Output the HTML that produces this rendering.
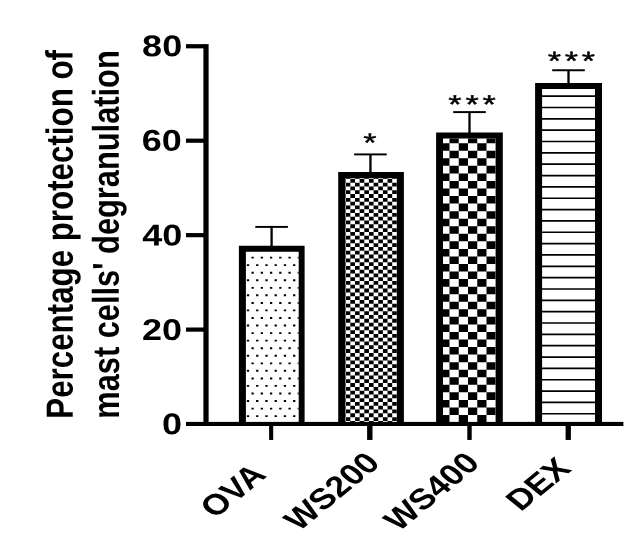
<!DOCTYPE html>
<html><head><meta charset="utf-8"><title>Chart</title>
<style>
html,body{margin:0;padding:0;background:#fff;}
body{width:637px;height:543px;overflow:hidden;}
svg{display:block;filter:blur(0.3px);}
text{font-family:"Liberation Sans",Arial,Helvetica,sans-serif;fill:#000;text-rendering:geometricPrecision;}
.b{font-weight:bold;}
</style></head><body>
<svg width="637" height="543" viewBox="0 0 637 543">
<rect width="637" height="543" fill="#fff"/>

<path fill="#000" fill-rule="evenodd" d="M238.9 245.85H304.6V424.0H238.9zM245.9 251.7V424.0H298.7V251.7z"/>
<clipPath id="c_dots"><rect x="245.9" y="251.7" width="52.80" height="172.30"/></clipPath>
<path clip-path="url(#c_dots)" fill="#000" d="M246.85 264.15h2.3v1.9h-2.3zM251.47 256.7h2.3v1.9h-2.3zM256.09 264.15h2.3v1.9h-2.3zM260.71 256.7h2.3v1.9h-2.3zM265.33 264.15h2.3v1.9h-2.3zM269.95 256.7h2.3v1.9h-2.3zM274.57 264.15h2.3v1.9h-2.3zM279.19 256.7h2.3v1.9h-2.3zM283.81 264.15h2.3v1.9h-2.3zM288.43 256.7h2.3v1.9h-2.3zM293.05 264.15h2.3v1.9h-2.3zM297.67 256.7h2.3v1.9h-2.3zM246.85 279.25h2.3v1.9h-2.3zM251.47 271.8h2.3v1.9h-2.3zM256.09 279.25h2.3v1.9h-2.3zM260.71 271.8h2.3v1.9h-2.3zM265.33 279.25h2.3v1.9h-2.3zM269.95 271.8h2.3v1.9h-2.3zM274.57 279.25h2.3v1.9h-2.3zM279.19 271.8h2.3v1.9h-2.3zM283.81 279.25h2.3v1.9h-2.3zM288.43 271.8h2.3v1.9h-2.3zM293.05 279.25h2.3v1.9h-2.3zM297.67 271.8h2.3v1.9h-2.3zM246.85 294.35h2.3v1.9h-2.3zM251.47 286.9h2.3v1.9h-2.3zM256.09 294.35h2.3v1.9h-2.3zM260.71 286.9h2.3v1.9h-2.3zM265.33 294.35h2.3v1.9h-2.3zM269.95 286.9h2.3v1.9h-2.3zM274.57 294.35h2.3v1.9h-2.3zM279.19 286.9h2.3v1.9h-2.3zM283.81 294.35h2.3v1.9h-2.3zM288.43 286.9h2.3v1.9h-2.3zM293.05 294.35h2.3v1.9h-2.3zM297.67 286.9h2.3v1.9h-2.3zM246.85 309.45h2.3v1.9h-2.3zM251.47 302h2.3v1.9h-2.3zM256.09 309.45h2.3v1.9h-2.3zM260.71 302h2.3v1.9h-2.3zM265.33 309.45h2.3v1.9h-2.3zM269.95 302h2.3v1.9h-2.3zM274.57 309.45h2.3v1.9h-2.3zM279.19 302h2.3v1.9h-2.3zM283.81 309.45h2.3v1.9h-2.3zM288.43 302h2.3v1.9h-2.3zM293.05 309.45h2.3v1.9h-2.3zM297.67 302h2.3v1.9h-2.3zM246.85 324.55h2.3v1.9h-2.3zM251.47 317.1h2.3v1.9h-2.3zM256.09 324.55h2.3v1.9h-2.3zM260.71 317.1h2.3v1.9h-2.3zM265.33 324.55h2.3v1.9h-2.3zM269.95 317.1h2.3v1.9h-2.3zM274.57 324.55h2.3v1.9h-2.3zM279.19 317.1h2.3v1.9h-2.3zM283.81 324.55h2.3v1.9h-2.3zM288.43 317.1h2.3v1.9h-2.3zM293.05 324.55h2.3v1.9h-2.3zM297.67 317.1h2.3v1.9h-2.3zM246.85 339.65h2.3v1.9h-2.3zM251.47 332.2h2.3v1.9h-2.3zM256.09 339.65h2.3v1.9h-2.3zM260.71 332.2h2.3v1.9h-2.3zM265.33 339.65h2.3v1.9h-2.3zM269.95 332.2h2.3v1.9h-2.3zM274.57 339.65h2.3v1.9h-2.3zM279.19 332.2h2.3v1.9h-2.3zM283.81 339.65h2.3v1.9h-2.3zM288.43 332.2h2.3v1.9h-2.3zM293.05 339.65h2.3v1.9h-2.3zM297.67 332.2h2.3v1.9h-2.3zM246.85 354.75h2.3v1.9h-2.3zM251.47 347.3h2.3v1.9h-2.3zM256.09 354.75h2.3v1.9h-2.3zM260.71 347.3h2.3v1.9h-2.3zM265.33 354.75h2.3v1.9h-2.3zM269.95 347.3h2.3v1.9h-2.3zM274.57 354.75h2.3v1.9h-2.3zM279.19 347.3h2.3v1.9h-2.3zM283.81 354.75h2.3v1.9h-2.3zM288.43 347.3h2.3v1.9h-2.3zM293.05 354.75h2.3v1.9h-2.3zM297.67 347.3h2.3v1.9h-2.3zM246.85 369.85h2.3v1.9h-2.3zM251.47 362.4h2.3v1.9h-2.3zM256.09 369.85h2.3v1.9h-2.3zM260.71 362.4h2.3v1.9h-2.3zM265.33 369.85h2.3v1.9h-2.3zM269.95 362.4h2.3v1.9h-2.3zM274.57 369.85h2.3v1.9h-2.3zM279.19 362.4h2.3v1.9h-2.3zM283.81 369.85h2.3v1.9h-2.3zM288.43 362.4h2.3v1.9h-2.3zM293.05 369.85h2.3v1.9h-2.3zM297.67 362.4h2.3v1.9h-2.3zM246.85 384.95h2.3v1.9h-2.3zM251.47 377.5h2.3v1.9h-2.3zM256.09 384.95h2.3v1.9h-2.3zM260.71 377.5h2.3v1.9h-2.3zM265.33 384.95h2.3v1.9h-2.3zM269.95 377.5h2.3v1.9h-2.3zM274.57 384.95h2.3v1.9h-2.3zM279.19 377.5h2.3v1.9h-2.3zM283.81 384.95h2.3v1.9h-2.3zM288.43 377.5h2.3v1.9h-2.3zM293.05 384.95h2.3v1.9h-2.3zM297.67 377.5h2.3v1.9h-2.3zM246.85 400.05h2.3v1.9h-2.3zM251.47 392.6h2.3v1.9h-2.3zM256.09 400.05h2.3v1.9h-2.3zM260.71 392.6h2.3v1.9h-2.3zM265.33 400.05h2.3v1.9h-2.3zM269.95 392.6h2.3v1.9h-2.3zM274.57 400.05h2.3v1.9h-2.3zM279.19 392.6h2.3v1.9h-2.3zM283.81 400.05h2.3v1.9h-2.3zM288.43 392.6h2.3v1.9h-2.3zM293.05 400.05h2.3v1.9h-2.3zM297.67 392.6h2.3v1.9h-2.3zM246.85 415.15h2.3v1.9h-2.3zM251.47 407.7h2.3v1.9h-2.3zM256.09 415.15h2.3v1.9h-2.3zM260.71 407.7h2.3v1.9h-2.3zM265.33 415.15h2.3v1.9h-2.3zM269.95 407.7h2.3v1.9h-2.3zM274.57 415.15h2.3v1.9h-2.3zM279.19 407.7h2.3v1.9h-2.3zM283.81 415.15h2.3v1.9h-2.3zM288.43 407.7h2.3v1.9h-2.3zM293.05 415.15h2.3v1.9h-2.3zM297.67 407.7h2.3v1.9h-2.3zM251.47 422.8h2.3v1.9h-2.3zM260.71 422.8h2.3v1.9h-2.3zM269.95 422.8h2.3v1.9h-2.3zM279.19 422.8h2.3v1.9h-2.3zM288.43 422.8h2.3v1.9h-2.3zM297.67 422.8h2.3v1.9h-2.3z"/>
<rect x="270.45" y="226.90" width="2.3" height="19.95" fill="#000"/>
<rect x="255.30" y="225.93" width="32.6" height="1.95" fill="#000"/>
<path fill="#000" fill-rule="evenodd" d="M338.2 172.0H403.9V424.0H338.2zM345.2 178.15V424.0H396.95V178.15z"/>
<clipPath id="c_chk1"><rect x="345.2" y="178.15" width="51.75" height="245.85"/></clipPath>
<path clip-path="url(#c_chk1)" fill="#000" d="M345.7 175.22h4.65v3.78h-4.65zM355 175.22h4.65v3.78h-4.65zM364.3 175.22h4.65v3.78h-4.65zM373.6 175.22h4.65v3.78h-4.65zM382.9 175.22h4.65v3.78h-4.65zM392.2 175.22h4.65v3.78h-4.65zM341.05 179h4.65v3.78h-4.65zM350.35 179h4.65v3.78h-4.65zM359.65 179h4.65v3.78h-4.65zM368.95 179h4.65v3.78h-4.65zM378.25 179h4.65v3.78h-4.65zM387.55 179h4.65v3.78h-4.65zM396.85 179h4.65v3.78h-4.65zM345.7 182.78h4.65v3.78h-4.65zM355 182.78h4.65v3.78h-4.65zM364.3 182.78h4.65v3.78h-4.65zM373.6 182.78h4.65v3.78h-4.65zM382.9 182.78h4.65v3.78h-4.65zM392.2 182.78h4.65v3.78h-4.65zM341.05 186.56h4.65v3.78h-4.65zM350.35 186.56h4.65v3.78h-4.65zM359.65 186.56h4.65v3.78h-4.65zM368.95 186.56h4.65v3.78h-4.65zM378.25 186.56h4.65v3.78h-4.65zM387.55 186.56h4.65v3.78h-4.65zM396.85 186.56h4.65v3.78h-4.65zM345.7 190.34h4.65v3.78h-4.65zM355 190.34h4.65v3.78h-4.65zM364.3 190.34h4.65v3.78h-4.65zM373.6 190.34h4.65v3.78h-4.65zM382.9 190.34h4.65v3.78h-4.65zM392.2 190.34h4.65v3.78h-4.65zM341.05 194.12h4.65v3.78h-4.65zM350.35 194.12h4.65v3.78h-4.65zM359.65 194.12h4.65v3.78h-4.65zM368.95 194.12h4.65v3.78h-4.65zM378.25 194.12h4.65v3.78h-4.65zM387.55 194.12h4.65v3.78h-4.65zM396.85 194.12h4.65v3.78h-4.65zM345.7 197.9h4.65v3.78h-4.65zM355 197.9h4.65v3.78h-4.65zM364.3 197.9h4.65v3.78h-4.65zM373.6 197.9h4.65v3.78h-4.65zM382.9 197.9h4.65v3.78h-4.65zM392.2 197.9h4.65v3.78h-4.65zM341.05 201.68h4.65v3.78h-4.65zM350.35 201.68h4.65v3.78h-4.65zM359.65 201.68h4.65v3.78h-4.65zM368.95 201.68h4.65v3.78h-4.65zM378.25 201.68h4.65v3.78h-4.65zM387.55 201.68h4.65v3.78h-4.65zM396.85 201.68h4.65v3.78h-4.65zM345.7 205.46h4.65v3.78h-4.65zM355 205.46h4.65v3.78h-4.65zM364.3 205.46h4.65v3.78h-4.65zM373.6 205.46h4.65v3.78h-4.65zM382.9 205.46h4.65v3.78h-4.65zM392.2 205.46h4.65v3.78h-4.65zM341.05 209.24h4.65v3.78h-4.65zM350.35 209.24h4.65v3.78h-4.65zM359.65 209.24h4.65v3.78h-4.65zM368.95 209.24h4.65v3.78h-4.65zM378.25 209.24h4.65v3.78h-4.65zM387.55 209.24h4.65v3.78h-4.65zM396.85 209.24h4.65v3.78h-4.65zM345.7 213.02h4.65v3.78h-4.65zM355 213.02h4.65v3.78h-4.65zM364.3 213.02h4.65v3.78h-4.65zM373.6 213.02h4.65v3.78h-4.65zM382.9 213.02h4.65v3.78h-4.65zM392.2 213.02h4.65v3.78h-4.65zM341.05 216.8h4.65v3.78h-4.65zM350.35 216.8h4.65v3.78h-4.65zM359.65 216.8h4.65v3.78h-4.65zM368.95 216.8h4.65v3.78h-4.65zM378.25 216.8h4.65v3.78h-4.65zM387.55 216.8h4.65v3.78h-4.65zM396.85 216.8h4.65v3.78h-4.65zM345.7 220.58h4.65v3.78h-4.65zM355 220.58h4.65v3.78h-4.65zM364.3 220.58h4.65v3.78h-4.65zM373.6 220.58h4.65v3.78h-4.65zM382.9 220.58h4.65v3.78h-4.65zM392.2 220.58h4.65v3.78h-4.65zM341.05 224.36h4.65v3.78h-4.65zM350.35 224.36h4.65v3.78h-4.65zM359.65 224.36h4.65v3.78h-4.65zM368.95 224.36h4.65v3.78h-4.65zM378.25 224.36h4.65v3.78h-4.65zM387.55 224.36h4.65v3.78h-4.65zM396.85 224.36h4.65v3.78h-4.65zM345.7 228.14h4.65v3.78h-4.65zM355 228.14h4.65v3.78h-4.65zM364.3 228.14h4.65v3.78h-4.65zM373.6 228.14h4.65v3.78h-4.65zM382.9 228.14h4.65v3.78h-4.65zM392.2 228.14h4.65v3.78h-4.65zM341.05 231.92h4.65v3.78h-4.65zM350.35 231.92h4.65v3.78h-4.65zM359.65 231.92h4.65v3.78h-4.65zM368.95 231.92h4.65v3.78h-4.65zM378.25 231.92h4.65v3.78h-4.65zM387.55 231.92h4.65v3.78h-4.65zM396.85 231.92h4.65v3.78h-4.65zM345.7 235.7h4.65v3.78h-4.65zM355 235.7h4.65v3.78h-4.65zM364.3 235.7h4.65v3.78h-4.65zM373.6 235.7h4.65v3.78h-4.65zM382.9 235.7h4.65v3.78h-4.65zM392.2 235.7h4.65v3.78h-4.65zM341.05 239.48h4.65v3.78h-4.65zM350.35 239.48h4.65v3.78h-4.65zM359.65 239.48h4.65v3.78h-4.65zM368.95 239.48h4.65v3.78h-4.65zM378.25 239.48h4.65v3.78h-4.65zM387.55 239.48h4.65v3.78h-4.65zM396.85 239.48h4.65v3.78h-4.65zM345.7 243.26h4.65v3.78h-4.65zM355 243.26h4.65v3.78h-4.65zM364.3 243.26h4.65v3.78h-4.65zM373.6 243.26h4.65v3.78h-4.65zM382.9 243.26h4.65v3.78h-4.65zM392.2 243.26h4.65v3.78h-4.65zM341.05 247.04h4.65v3.78h-4.65zM350.35 247.04h4.65v3.78h-4.65zM359.65 247.04h4.65v3.78h-4.65zM368.95 247.04h4.65v3.78h-4.65zM378.25 247.04h4.65v3.78h-4.65zM387.55 247.04h4.65v3.78h-4.65zM396.85 247.04h4.65v3.78h-4.65zM345.7 250.82h4.65v3.78h-4.65zM355 250.82h4.65v3.78h-4.65zM364.3 250.82h4.65v3.78h-4.65zM373.6 250.82h4.65v3.78h-4.65zM382.9 250.82h4.65v3.78h-4.65zM392.2 250.82h4.65v3.78h-4.65zM341.05 254.6h4.65v3.78h-4.65zM350.35 254.6h4.65v3.78h-4.65zM359.65 254.6h4.65v3.78h-4.65zM368.95 254.6h4.65v3.78h-4.65zM378.25 254.6h4.65v3.78h-4.65zM387.55 254.6h4.65v3.78h-4.65zM396.85 254.6h4.65v3.78h-4.65zM345.7 258.38h4.65v3.78h-4.65zM355 258.38h4.65v3.78h-4.65zM364.3 258.38h4.65v3.78h-4.65zM373.6 258.38h4.65v3.78h-4.65zM382.9 258.38h4.65v3.78h-4.65zM392.2 258.38h4.65v3.78h-4.65zM341.05 262.16h4.65v3.78h-4.65zM350.35 262.16h4.65v3.78h-4.65zM359.65 262.16h4.65v3.78h-4.65zM368.95 262.16h4.65v3.78h-4.65zM378.25 262.16h4.65v3.78h-4.65zM387.55 262.16h4.65v3.78h-4.65zM396.85 262.16h4.65v3.78h-4.65zM345.7 265.94h4.65v3.78h-4.65zM355 265.94h4.65v3.78h-4.65zM364.3 265.94h4.65v3.78h-4.65zM373.6 265.94h4.65v3.78h-4.65zM382.9 265.94h4.65v3.78h-4.65zM392.2 265.94h4.65v3.78h-4.65zM341.05 269.72h4.65v3.78h-4.65zM350.35 269.72h4.65v3.78h-4.65zM359.65 269.72h4.65v3.78h-4.65zM368.95 269.72h4.65v3.78h-4.65zM378.25 269.72h4.65v3.78h-4.65zM387.55 269.72h4.65v3.78h-4.65zM396.85 269.72h4.65v3.78h-4.65zM345.7 273.5h4.65v3.78h-4.65zM355 273.5h4.65v3.78h-4.65zM364.3 273.5h4.65v3.78h-4.65zM373.6 273.5h4.65v3.78h-4.65zM382.9 273.5h4.65v3.78h-4.65zM392.2 273.5h4.65v3.78h-4.65zM341.05 277.28h4.65v3.78h-4.65zM350.35 277.28h4.65v3.78h-4.65zM359.65 277.28h4.65v3.78h-4.65zM368.95 277.28h4.65v3.78h-4.65zM378.25 277.28h4.65v3.78h-4.65zM387.55 277.28h4.65v3.78h-4.65zM396.85 277.28h4.65v3.78h-4.65zM345.7 281.06h4.65v3.78h-4.65zM355 281.06h4.65v3.78h-4.65zM364.3 281.06h4.65v3.78h-4.65zM373.6 281.06h4.65v3.78h-4.65zM382.9 281.06h4.65v3.78h-4.65zM392.2 281.06h4.65v3.78h-4.65zM341.05 284.84h4.65v3.78h-4.65zM350.35 284.84h4.65v3.78h-4.65zM359.65 284.84h4.65v3.78h-4.65zM368.95 284.84h4.65v3.78h-4.65zM378.25 284.84h4.65v3.78h-4.65zM387.55 284.84h4.65v3.78h-4.65zM396.85 284.84h4.65v3.78h-4.65zM345.7 288.62h4.65v3.78h-4.65zM355 288.62h4.65v3.78h-4.65zM364.3 288.62h4.65v3.78h-4.65zM373.6 288.62h4.65v3.78h-4.65zM382.9 288.62h4.65v3.78h-4.65zM392.2 288.62h4.65v3.78h-4.65zM341.05 292.4h4.65v3.78h-4.65zM350.35 292.4h4.65v3.78h-4.65zM359.65 292.4h4.65v3.78h-4.65zM368.95 292.4h4.65v3.78h-4.65zM378.25 292.4h4.65v3.78h-4.65zM387.55 292.4h4.65v3.78h-4.65zM396.85 292.4h4.65v3.78h-4.65zM345.7 296.18h4.65v3.78h-4.65zM355 296.18h4.65v3.78h-4.65zM364.3 296.18h4.65v3.78h-4.65zM373.6 296.18h4.65v3.78h-4.65zM382.9 296.18h4.65v3.78h-4.65zM392.2 296.18h4.65v3.78h-4.65zM341.05 299.96h4.65v3.78h-4.65zM350.35 299.96h4.65v3.78h-4.65zM359.65 299.96h4.65v3.78h-4.65zM368.95 299.96h4.65v3.78h-4.65zM378.25 299.96h4.65v3.78h-4.65zM387.55 299.96h4.65v3.78h-4.65zM396.85 299.96h4.65v3.78h-4.65zM345.7 303.74h4.65v3.78h-4.65zM355 303.74h4.65v3.78h-4.65zM364.3 303.74h4.65v3.78h-4.65zM373.6 303.74h4.65v3.78h-4.65zM382.9 303.74h4.65v3.78h-4.65zM392.2 303.74h4.65v3.78h-4.65zM341.05 307.52h4.65v3.78h-4.65zM350.35 307.52h4.65v3.78h-4.65zM359.65 307.52h4.65v3.78h-4.65zM368.95 307.52h4.65v3.78h-4.65zM378.25 307.52h4.65v3.78h-4.65zM387.55 307.52h4.65v3.78h-4.65zM396.85 307.52h4.65v3.78h-4.65zM345.7 311.3h4.65v3.78h-4.65zM355 311.3h4.65v3.78h-4.65zM364.3 311.3h4.65v3.78h-4.65zM373.6 311.3h4.65v3.78h-4.65zM382.9 311.3h4.65v3.78h-4.65zM392.2 311.3h4.65v3.78h-4.65zM341.05 315.08h4.65v3.78h-4.65zM350.35 315.08h4.65v3.78h-4.65zM359.65 315.08h4.65v3.78h-4.65zM368.95 315.08h4.65v3.78h-4.65zM378.25 315.08h4.65v3.78h-4.65zM387.55 315.08h4.65v3.78h-4.65zM396.85 315.08h4.65v3.78h-4.65zM345.7 318.86h4.65v3.78h-4.65zM355 318.86h4.65v3.78h-4.65zM364.3 318.86h4.65v3.78h-4.65zM373.6 318.86h4.65v3.78h-4.65zM382.9 318.86h4.65v3.78h-4.65zM392.2 318.86h4.65v3.78h-4.65zM341.05 322.64h4.65v3.78h-4.65zM350.35 322.64h4.65v3.78h-4.65zM359.65 322.64h4.65v3.78h-4.65zM368.95 322.64h4.65v3.78h-4.65zM378.25 322.64h4.65v3.78h-4.65zM387.55 322.64h4.65v3.78h-4.65zM396.85 322.64h4.65v3.78h-4.65zM345.7 326.42h4.65v3.78h-4.65zM355 326.42h4.65v3.78h-4.65zM364.3 326.42h4.65v3.78h-4.65zM373.6 326.42h4.65v3.78h-4.65zM382.9 326.42h4.65v3.78h-4.65zM392.2 326.42h4.65v3.78h-4.65zM341.05 330.2h4.65v3.78h-4.65zM350.35 330.2h4.65v3.78h-4.65zM359.65 330.2h4.65v3.78h-4.65zM368.95 330.2h4.65v3.78h-4.65zM378.25 330.2h4.65v3.78h-4.65zM387.55 330.2h4.65v3.78h-4.65zM396.85 330.2h4.65v3.78h-4.65zM345.7 333.98h4.65v3.78h-4.65zM355 333.98h4.65v3.78h-4.65zM364.3 333.98h4.65v3.78h-4.65zM373.6 333.98h4.65v3.78h-4.65zM382.9 333.98h4.65v3.78h-4.65zM392.2 333.98h4.65v3.78h-4.65zM341.05 337.76h4.65v3.78h-4.65zM350.35 337.76h4.65v3.78h-4.65zM359.65 337.76h4.65v3.78h-4.65zM368.95 337.76h4.65v3.78h-4.65zM378.25 337.76h4.65v3.78h-4.65zM387.55 337.76h4.65v3.78h-4.65zM396.85 337.76h4.65v3.78h-4.65zM345.7 341.54h4.65v3.78h-4.65zM355 341.54h4.65v3.78h-4.65zM364.3 341.54h4.65v3.78h-4.65zM373.6 341.54h4.65v3.78h-4.65zM382.9 341.54h4.65v3.78h-4.65zM392.2 341.54h4.65v3.78h-4.65zM341.05 345.32h4.65v3.78h-4.65zM350.35 345.32h4.65v3.78h-4.65zM359.65 345.32h4.65v3.78h-4.65zM368.95 345.32h4.65v3.78h-4.65zM378.25 345.32h4.65v3.78h-4.65zM387.55 345.32h4.65v3.78h-4.65zM396.85 345.32h4.65v3.78h-4.65zM345.7 349.1h4.65v3.78h-4.65zM355 349.1h4.65v3.78h-4.65zM364.3 349.1h4.65v3.78h-4.65zM373.6 349.1h4.65v3.78h-4.65zM382.9 349.1h4.65v3.78h-4.65zM392.2 349.1h4.65v3.78h-4.65zM341.05 352.88h4.65v3.78h-4.65zM350.35 352.88h4.65v3.78h-4.65zM359.65 352.88h4.65v3.78h-4.65zM368.95 352.88h4.65v3.78h-4.65zM378.25 352.88h4.65v3.78h-4.65zM387.55 352.88h4.65v3.78h-4.65zM396.85 352.88h4.65v3.78h-4.65zM345.7 356.66h4.65v3.78h-4.65zM355 356.66h4.65v3.78h-4.65zM364.3 356.66h4.65v3.78h-4.65zM373.6 356.66h4.65v3.78h-4.65zM382.9 356.66h4.65v3.78h-4.65zM392.2 356.66h4.65v3.78h-4.65zM341.05 360.44h4.65v3.78h-4.65zM350.35 360.44h4.65v3.78h-4.65zM359.65 360.44h4.65v3.78h-4.65zM368.95 360.44h4.65v3.78h-4.65zM378.25 360.44h4.65v3.78h-4.65zM387.55 360.44h4.65v3.78h-4.65zM396.85 360.44h4.65v3.78h-4.65zM345.7 364.22h4.65v3.78h-4.65zM355 364.22h4.65v3.78h-4.65zM364.3 364.22h4.65v3.78h-4.65zM373.6 364.22h4.65v3.78h-4.65zM382.9 364.22h4.65v3.78h-4.65zM392.2 364.22h4.65v3.78h-4.65zM341.05 368h4.65v3.78h-4.65zM350.35 368h4.65v3.78h-4.65zM359.65 368h4.65v3.78h-4.65zM368.95 368h4.65v3.78h-4.65zM378.25 368h4.65v3.78h-4.65zM387.55 368h4.65v3.78h-4.65zM396.85 368h4.65v3.78h-4.65zM345.7 371.78h4.65v3.78h-4.65zM355 371.78h4.65v3.78h-4.65zM364.3 371.78h4.65v3.78h-4.65zM373.6 371.78h4.65v3.78h-4.65zM382.9 371.78h4.65v3.78h-4.65zM392.2 371.78h4.65v3.78h-4.65zM341.05 375.56h4.65v3.78h-4.65zM350.35 375.56h4.65v3.78h-4.65zM359.65 375.56h4.65v3.78h-4.65zM368.95 375.56h4.65v3.78h-4.65zM378.25 375.56h4.65v3.78h-4.65zM387.55 375.56h4.65v3.78h-4.65zM396.85 375.56h4.65v3.78h-4.65zM345.7 379.34h4.65v3.78h-4.65zM355 379.34h4.65v3.78h-4.65zM364.3 379.34h4.65v3.78h-4.65zM373.6 379.34h4.65v3.78h-4.65zM382.9 379.34h4.65v3.78h-4.65zM392.2 379.34h4.65v3.78h-4.65zM341.05 383.12h4.65v3.78h-4.65zM350.35 383.12h4.65v3.78h-4.65zM359.65 383.12h4.65v3.78h-4.65zM368.95 383.12h4.65v3.78h-4.65zM378.25 383.12h4.65v3.78h-4.65zM387.55 383.12h4.65v3.78h-4.65zM396.85 383.12h4.65v3.78h-4.65zM345.7 386.9h4.65v3.78h-4.65zM355 386.9h4.65v3.78h-4.65zM364.3 386.9h4.65v3.78h-4.65zM373.6 386.9h4.65v3.78h-4.65zM382.9 386.9h4.65v3.78h-4.65zM392.2 386.9h4.65v3.78h-4.65zM341.05 390.68h4.65v3.78h-4.65zM350.35 390.68h4.65v3.78h-4.65zM359.65 390.68h4.65v3.78h-4.65zM368.95 390.68h4.65v3.78h-4.65zM378.25 390.68h4.65v3.78h-4.65zM387.55 390.68h4.65v3.78h-4.65zM396.85 390.68h4.65v3.78h-4.65zM345.7 394.46h4.65v3.78h-4.65zM355 394.46h4.65v3.78h-4.65zM364.3 394.46h4.65v3.78h-4.65zM373.6 394.46h4.65v3.78h-4.65zM382.9 394.46h4.65v3.78h-4.65zM392.2 394.46h4.65v3.78h-4.65zM341.05 398.24h4.65v3.78h-4.65zM350.35 398.24h4.65v3.78h-4.65zM359.65 398.24h4.65v3.78h-4.65zM368.95 398.24h4.65v3.78h-4.65zM378.25 398.24h4.65v3.78h-4.65zM387.55 398.24h4.65v3.78h-4.65zM396.85 398.24h4.65v3.78h-4.65zM345.7 402.02h4.65v3.78h-4.65zM355 402.02h4.65v3.78h-4.65zM364.3 402.02h4.65v3.78h-4.65zM373.6 402.02h4.65v3.78h-4.65zM382.9 402.02h4.65v3.78h-4.65zM392.2 402.02h4.65v3.78h-4.65zM341.05 405.8h4.65v3.78h-4.65zM350.35 405.8h4.65v3.78h-4.65zM359.65 405.8h4.65v3.78h-4.65zM368.95 405.8h4.65v3.78h-4.65zM378.25 405.8h4.65v3.78h-4.65zM387.55 405.8h4.65v3.78h-4.65zM396.85 405.8h4.65v3.78h-4.65zM345.7 409.58h4.65v3.78h-4.65zM355 409.58h4.65v3.78h-4.65zM364.3 409.58h4.65v3.78h-4.65zM373.6 409.58h4.65v3.78h-4.65zM382.9 409.58h4.65v3.78h-4.65zM392.2 409.58h4.65v3.78h-4.65zM341.05 413.36h4.65v3.78h-4.65zM350.35 413.36h4.65v3.78h-4.65zM359.65 413.36h4.65v3.78h-4.65zM368.95 413.36h4.65v3.78h-4.65zM378.25 413.36h4.65v3.78h-4.65zM387.55 413.36h4.65v3.78h-4.65zM396.85 413.36h4.65v3.78h-4.65zM345.7 417.14h4.65v3.78h-4.65zM355 417.14h4.65v3.78h-4.65zM364.3 417.14h4.65v3.78h-4.65zM373.6 417.14h4.65v3.78h-4.65zM382.9 417.14h4.65v3.78h-4.65zM392.2 417.14h4.65v3.78h-4.65zM341.05 420.92h4.65v3.78h-4.65zM350.35 420.92h4.65v3.78h-4.65zM359.65 420.92h4.65v3.78h-4.65zM368.95 420.92h4.65v3.78h-4.65zM378.25 420.92h4.65v3.78h-4.65zM387.55 420.92h4.65v3.78h-4.65zM396.85 420.92h4.65v3.78h-4.65z"/>
<rect x="369.30" y="154.40" width="2.3" height="18.60" fill="#000"/>
<rect x="354.15" y="153.43" width="32.6" height="1.95" fill="#000"/>
<path fill="#000" fill-rule="evenodd" d="M436.1 132.5H502.8V424.0H436.1zM443.0 138.4V424.0H495.6V138.4z"/>
<clipPath id="c_chk2"><rect x="443.0" y="138.4" width="52.60" height="285.60"/></clipPath>
<path clip-path="url(#c_chk2)" fill="#000" d="M449.5 135.65h9.25v7.55h-9.25zM468 135.65h9.25v7.55h-9.25zM486.5 135.65h9.25v7.55h-9.25zM440.25 143.2h9.25v7.55h-9.25zM458.75 143.2h9.25v7.55h-9.25zM477.25 143.2h9.25v7.55h-9.25zM449.5 150.75h9.25v7.55h-9.25zM468 150.75h9.25v7.55h-9.25zM486.5 150.75h9.25v7.55h-9.25zM440.25 158.3h9.25v7.55h-9.25zM458.75 158.3h9.25v7.55h-9.25zM477.25 158.3h9.25v7.55h-9.25zM449.5 165.85h9.25v7.55h-9.25zM468 165.85h9.25v7.55h-9.25zM486.5 165.85h9.25v7.55h-9.25zM440.25 173.4h9.25v7.55h-9.25zM458.75 173.4h9.25v7.55h-9.25zM477.25 173.4h9.25v7.55h-9.25zM449.5 180.95h9.25v7.55h-9.25zM468 180.95h9.25v7.55h-9.25zM486.5 180.95h9.25v7.55h-9.25zM440.25 188.5h9.25v7.55h-9.25zM458.75 188.5h9.25v7.55h-9.25zM477.25 188.5h9.25v7.55h-9.25zM449.5 196.05h9.25v7.55h-9.25zM468 196.05h9.25v7.55h-9.25zM486.5 196.05h9.25v7.55h-9.25zM440.25 203.6h9.25v7.55h-9.25zM458.75 203.6h9.25v7.55h-9.25zM477.25 203.6h9.25v7.55h-9.25zM449.5 211.15h9.25v7.55h-9.25zM468 211.15h9.25v7.55h-9.25zM486.5 211.15h9.25v7.55h-9.25zM440.25 218.7h9.25v7.55h-9.25zM458.75 218.7h9.25v7.55h-9.25zM477.25 218.7h9.25v7.55h-9.25zM449.5 226.25h9.25v7.55h-9.25zM468 226.25h9.25v7.55h-9.25zM486.5 226.25h9.25v7.55h-9.25zM440.25 233.8h9.25v7.55h-9.25zM458.75 233.8h9.25v7.55h-9.25zM477.25 233.8h9.25v7.55h-9.25zM449.5 241.35h9.25v7.55h-9.25zM468 241.35h9.25v7.55h-9.25zM486.5 241.35h9.25v7.55h-9.25zM440.25 248.9h9.25v7.55h-9.25zM458.75 248.9h9.25v7.55h-9.25zM477.25 248.9h9.25v7.55h-9.25zM449.5 256.45h9.25v7.55h-9.25zM468 256.45h9.25v7.55h-9.25zM486.5 256.45h9.25v7.55h-9.25zM440.25 264h9.25v7.55h-9.25zM458.75 264h9.25v7.55h-9.25zM477.25 264h9.25v7.55h-9.25zM449.5 271.55h9.25v7.55h-9.25zM468 271.55h9.25v7.55h-9.25zM486.5 271.55h9.25v7.55h-9.25zM440.25 279.1h9.25v7.55h-9.25zM458.75 279.1h9.25v7.55h-9.25zM477.25 279.1h9.25v7.55h-9.25zM449.5 286.65h9.25v7.55h-9.25zM468 286.65h9.25v7.55h-9.25zM486.5 286.65h9.25v7.55h-9.25zM440.25 294.2h9.25v7.55h-9.25zM458.75 294.2h9.25v7.55h-9.25zM477.25 294.2h9.25v7.55h-9.25zM449.5 301.75h9.25v7.55h-9.25zM468 301.75h9.25v7.55h-9.25zM486.5 301.75h9.25v7.55h-9.25zM440.25 309.3h9.25v7.55h-9.25zM458.75 309.3h9.25v7.55h-9.25zM477.25 309.3h9.25v7.55h-9.25zM449.5 316.85h9.25v7.55h-9.25zM468 316.85h9.25v7.55h-9.25zM486.5 316.85h9.25v7.55h-9.25zM440.25 324.4h9.25v7.55h-9.25zM458.75 324.4h9.25v7.55h-9.25zM477.25 324.4h9.25v7.55h-9.25zM449.5 331.95h9.25v7.55h-9.25zM468 331.95h9.25v7.55h-9.25zM486.5 331.95h9.25v7.55h-9.25zM440.25 339.5h9.25v7.55h-9.25zM458.75 339.5h9.25v7.55h-9.25zM477.25 339.5h9.25v7.55h-9.25zM449.5 347.05h9.25v7.55h-9.25zM468 347.05h9.25v7.55h-9.25zM486.5 347.05h9.25v7.55h-9.25zM440.25 354.6h9.25v7.55h-9.25zM458.75 354.6h9.25v7.55h-9.25zM477.25 354.6h9.25v7.55h-9.25zM449.5 362.15h9.25v7.55h-9.25zM468 362.15h9.25v7.55h-9.25zM486.5 362.15h9.25v7.55h-9.25zM440.25 369.7h9.25v7.55h-9.25zM458.75 369.7h9.25v7.55h-9.25zM477.25 369.7h9.25v7.55h-9.25zM449.5 377.25h9.25v7.55h-9.25zM468 377.25h9.25v7.55h-9.25zM486.5 377.25h9.25v7.55h-9.25zM440.25 384.8h9.25v7.55h-9.25zM458.75 384.8h9.25v7.55h-9.25zM477.25 384.8h9.25v7.55h-9.25zM449.5 392.35h9.25v7.55h-9.25zM468 392.35h9.25v7.55h-9.25zM486.5 392.35h9.25v7.55h-9.25zM440.25 399.9h9.25v7.55h-9.25zM458.75 399.9h9.25v7.55h-9.25zM477.25 399.9h9.25v7.55h-9.25zM449.5 407.45h9.25v7.55h-9.25zM468 407.45h9.25v7.55h-9.25zM486.5 407.45h9.25v7.55h-9.25zM440.25 415h9.25v7.55h-9.25zM458.75 415h9.25v7.55h-9.25zM477.25 415h9.25v7.55h-9.25zM449.5 422.55h9.25v7.55h-9.25zM468 422.55h9.25v7.55h-9.25zM486.5 422.55h9.25v7.55h-9.25z"/>
<rect x="468.35" y="112.10" width="2.3" height="21.40" fill="#000"/>
<rect x="453.20" y="111.13" width="32.6" height="1.95" fill="#000"/>
<path fill="#000" fill-rule="evenodd" d="M535.1 82.9H602.0V424.0H535.1zM542.1 88.9V424.0H595.0V88.9z"/>
<clipPath id="c_hl"><rect x="542.1" y="88.9" width="52.90" height="335.10"/></clipPath>
<path clip-path="url(#c_hl)" fill="#000" d="M541.1 95.3h54.9v1.7h-54.9zM541.1 106.64h54.9v1.7h-54.9zM541.1 117.99h54.9v1.7h-54.9zM541.1 129.33h54.9v1.7h-54.9zM541.1 140.67h54.9v1.7h-54.9zM541.1 152.01h54.9v1.7h-54.9zM541.1 163.36h54.9v1.7h-54.9zM541.1 174.7h54.9v1.7h-54.9zM541.1 186.04h54.9v1.7h-54.9zM541.1 197.39h54.9v1.7h-54.9zM541.1 208.73h54.9v1.7h-54.9zM541.1 220.07h54.9v1.7h-54.9zM541.1 231.42h54.9v1.7h-54.9zM541.1 242.76h54.9v1.7h-54.9zM541.1 254.1h54.9v1.7h-54.9zM541.1 265.44h54.9v1.7h-54.9zM541.1 276.79h54.9v1.7h-54.9zM541.1 288.13h54.9v1.7h-54.9zM541.1 299.47h54.9v1.7h-54.9zM541.1 310.82h54.9v1.7h-54.9zM541.1 322.16h54.9v1.7h-54.9zM541.1 333.5h54.9v1.7h-54.9zM541.1 344.85h54.9v1.7h-54.9zM541.1 356.19h54.9v1.7h-54.9zM541.1 367.53h54.9v1.7h-54.9zM541.1 378.88h54.9v1.7h-54.9zM541.1 390.22h54.9v1.7h-54.9zM541.1 401.56h54.9v1.7h-54.9zM541.1 412.9h54.9v1.7h-54.9z"/>
<rect x="567.35" y="70.25" width="2.3" height="13.65" fill="#000"/>
<rect x="552.20" y="69.28" width="32.6" height="1.95" fill="#000"/>
<rect x="203.4" y="44.15" width="5.2" height="381.85" fill="#000"/>
<rect x="186" y="421.9" width="437.40" height="4.1" fill="#000"/>
<rect x="186" y="327.50" width="20" height="4.2" fill="#000"/>
<rect x="186" y="233.05" width="20" height="4.2" fill="#000"/>
<rect x="186" y="138.60" width="20" height="4.2" fill="#000"/>
<rect x="186" y="44.15" width="20" height="4.2" fill="#000"/>
<rect x="269.1" y="424" width="4.10" height="15.95" fill="#000"/>
<rect x="367.1" y="424" width="5.40" height="15.95" fill="#000"/>
<rect x="467.3" y="424" width="4.40" height="15.95" fill="#000"/>
<rect x="565.6" y="424" width="5.30" height="15.95" fill="#000"/>
<text id="t80" class="b" font-size="30" text-anchor="end" transform="translate(182.17,56.21) scale(1.2,1) rotate(0.03)">80</text>
<text id="t60" class="b" font-size="30" text-anchor="end" transform="translate(181.89,150.80) scale(1.2,1) rotate(0.03)">60</text>
<text id="t40" class="b" font-size="30" text-anchor="end" transform="translate(182.29,245.41) scale(1.2,1) rotate(0.03)">40</text>
<text id="t20" class="b" font-size="30" text-anchor="end" transform="translate(182.12,340.01) scale(1.2,1) rotate(0.03)">20</text>
<text id="t0" class="b" font-size="30" text-anchor="end" transform="translate(181.97,434.21) scale(1.2,1) rotate(0.03)">0</text>
<text id="ti1" class="b" font-size="31.3" text-anchor="middle" transform="translate(72.70,234.35) scale(1.21,1) rotate(-90.03)">Percentage protection of</text>
<text id="ti2" class="b" font-size="30.8" text-anchor="middle" transform="translate(118.80,234.52) scale(1.21,1) rotate(-90.03)">mast cells&#39; degranulation</text>
<text id="xO" class="b" font-size="29.2" text-anchor="end" transform="translate(267.80,476.08) scale(1.22,1) rotate(-45)">OVA</text>
<text id="x2" class="b" font-size="29.2" text-anchor="end" transform="translate(381.49,464.40) scale(1.22,1) rotate(-45)">WS200</text>
<text id="x4" class="b" font-size="29.2" text-anchor="end" transform="translate(481.30,464.50) scale(1.22,1) rotate(-45)">WS400</text>
<text id="xD" class="b" font-size="29.2" text-anchor="end" transform="translate(572.48,469.91) scale(1.22,1) rotate(-45)">DEX</text>
<text id="s1" stroke="#000" stroke-width="0.4" font-size="26.2" text-anchor="start" letter-spacing="2.9" transform="translate(363.32,151.62) scale(1.3,1) rotate(0.03)">*</text>
<text id="s3" stroke="#000" stroke-width="0.4" font-size="26.2" text-anchor="start" letter-spacing="2.9" transform="translate(448.37,113.32) scale(1.3,1) rotate(0.03)">***</text>
<text id="s4" stroke="#000" stroke-width="0.4" font-size="26.2" text-anchor="start" letter-spacing="2.9" transform="translate(547.66,69.78) scale(1.3,1) rotate(0.03)">***</text>
</svg></body></html>
